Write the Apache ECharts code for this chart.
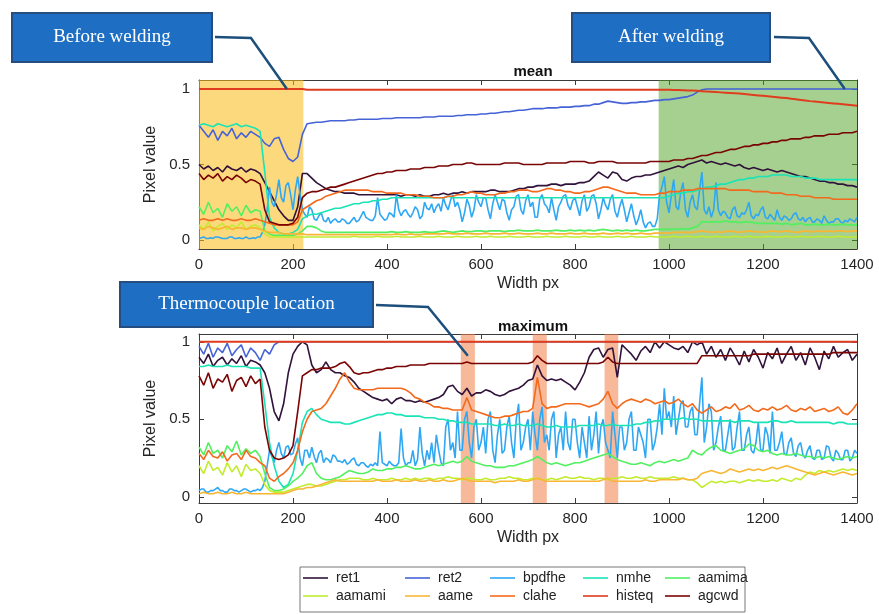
<!DOCTYPE html>
<html>
<head>
<meta charset="utf-8">
<script src="https://cdn.jsdelivr.net/npm/echarts@6.0.0/dist/echarts.min.js"></script>
<style>html,body{margin:0;padding:0;background:#fff}#c{width:879px;height:614px}</style>
</head>
<body>
<div id="c"></div>
<script>
// ---------------- data ----------------
const seriesNames = ['ret1','ret2','bpdfhe','nmhe','aamima','aamami','aame','clahe','histeq','agcwd'];
const yTickValues = [0,0.5,1];
// sampling grids: Width px every 10 px (and every 5 px for the noisiest curves)
const widthPx = Array.from({length:141},(_,i)=>i*10);
const widthFine = Array.from({length:281},(_,i)=>i*5);

const beforeRange = [0,222];
const afterRange = [978,1400];
const thermoRanges = [[557,587],[710,740],[863,892]];

// ---- mean ----
const mRet1 = [
.5,.47,.49,.46,.48,.45,.49,.47,.46,.48,
.45,.47,.46,.44,.38,.32,.26,.2,.16,.13,
.13,.22,.44,.44,.41,.38,.36,.34,.33,.32,
.32,.31,.31,.31,.3,.3,.3,.3,.3,.3,
.3,.3,.3,.29,.3,.3,.29,.3,.29,.29,
.3,.3,.31,.3,.31,.31,.32,.31,.32,.32,
.32,.32,.33,.33,.32,.32,.32,.33,.34,.34,
.35,.35,.36,.36,.36,.37,.37,.36,.37,.37,
.37,.38,.38,.39,.42,.45,.43,.41,.45,.44,
.4,.39,.41,.42,.42,.43,.43,.44,.45,.46,
.47,.48,.49,.48,.5,.51,.52,.53,.51,.52,
.51,.5,.51,.5,.49,.5,.48,.47,.48,.47,
.46,.47,.46,.45,.46,.45,.44,.43,.42,.42,
.41,.4,.39,.39,.38,.38,.37,.37,.36,.36,
.35];
const mRet2 = [
.76,.72,.68,.73,.66,.72,.69,.74,.67,.71,
.68,.72,.7,.68,.64,.62,.67,.68,.6,.54,
.52,.55,.7,.77,.775,.78,.78,.785,.79,.79,
.79,.79,.795,.795,.8,.8,.8,.8,.8,.805,
.805,.805,.81,.81,.81,.81,.81,.81,.815,.815,
.815,.82,.82,.82,.82,.825,.825,.83,.83,.83,
.835,.835,.84,.84,.845,.85,.85,.855,.86,.86,
.865,.87,.87,.87,.875,.875,.875,.88,.88,.88,
.885,.885,.89,.89,.9,.9,.91,.92,.915,.91,
.905,.905,.91,.91,.915,.915,.92,.925,.925,.93,
.93,.935,.94,.945,.95,.96,.98,.995,1,1,
1,1,1,1,1,1,1,1,1,1,
1,1,1,1,1,1,1,1,1,1,
1,1,1,1,1,1,1,1,1,1,
1];
const mBpdfhe = [
.01,.015,.02,.01,.01,.015,.01,.02,.02,.015,.01,.01,.01,.02,.02,.01,.01,.015,.01,.01,
.02,.01,.01,.015,.01,.02,.02,.05,.1,.2,.35,.25,.22,.3,.4,.28,.25,.36,.38,.3,
.2,.33,.42,.3,.2,.17,.15,.22,.2,.14,.13,.16,.18,.13,.12,.15,.11,.13,.14,.12,
.12,.14,.13,.11,.11,.13,.15,.12,.13,.16,.19,.15,.14,.13,.13,.16,.28,.17,.15,.13,
.14,.18,.17,.15,.3,.2,.16,.19,.2,.17,.15,.18,.22,.2,.14,.16,.25,.21,.2,.24,
.18,.22,.24,.19,.28,.23,.2,.26,.3,.22,.25,.2,.12,.18,.27,.23,.15,.2,.3,.25,
.22,.28,.28,.2,.14,.24,.3,.25,.2,.27,.26,.18,.13,.2,.22,.29,.3,.2,.17,.26,
.3,.22,.25,.15,.15,.27,.3,.24,.22,.18,.28,.2,.13,.22,.25,.29,.3,.23,.2,.26,
.28,.22,.16,.26,.3,.19,.22,.29,.3,.24,.14,.2,.28,.23,.2,.27,.3,.19,.15,.22,
.27,.2,.12,.18,.24,.16,.1,.14,.2,.12,.08,.11,.12,.09,.09,.14,.3,.35,.42,.25,
.18,.3,.4,.22,.2,.32,.38,.2,.15,.25,.3,.22,.2,.33,.45,.2,.17,.22,.15,.2,
.38,.2,.16,.19,.18,.15,.14,.2,.22,.16,.15,.18,.17,.2,.25,.16,.14,.17,.16,.2,
.22,.15,.14,.17,.15,.13,.2,.15,.13,.16,.15,.13,.14,.17,.18,.14,.13,.15,.12,.14,
.15,.12,.12,.14,.13,.11,.16,.13,.11,.12,.12,.14,.14,.12,.11,.13,.12,.14,.13,.12,
.15];
const mNmhe = [
.76,.77,.76,.75,.77,.76,.75,.76,.77,.75,
.76,.75,.74,.72,.45,.15,.08,.05,.04,.04,
.05,.07,.14,.16,.17,.17,.18,.19,.2,.21,
.21,.22,.23,.24,.24,.25,.25,.26,.26,.27,
.27,.28,.28,.28,.28,.28,.28,.28,.28,.28,
.28,.28,.28,.29,.28,.28,.28,.28,.28,.28,
.28,.28,.28,.28,.28,.28,.28,.28,.28,.28,
.28,.28,.28,.28,.28,.28,.28,.28,.28,.28,
.28,.28,.28,.28,.28,.28,.28,.28,.28,.28,
.28,.28,.28,.28,.28,.28,.28,.28,.28,.28,
.29,.3,.31,.31,.32,.32,.33,.34,.35,.35,
.36,.37,.37,.38,.39,.4,.4,.41,.41,.42,
.42,.42,.43,.43,.43,.43,.42,.42,.42,.41,
.41,.41,.4,.4,.4,.4,.4,.4,.4,.4,
.4];
const mAamima = [
.22,.17,.25,.18,.21,.15,.24,.19,.22,.16,
.23,.18,.2,.19,.06,.04,.03,.03,.03,.03,
.03,.04,.06,.09,.09,.08,.06,.05,.05,.05,
.05,.05,.05,.05,.05,.05,.05,.05,.05,.05,
.05,.055,.05,.05,.055,.05,.05,.05,.055,.05,
.05,.055,.06,.055,.05,.055,.06,.055,.055,.06,
.06,.055,.06,.06,.06,.055,.06,.06,.065,.06,
.06,.06,.065,.06,.06,.06,.065,.06,.06,.065,
.06,.065,.06,.065,.06,.065,.07,.065,.06,.065,
.06,.065,.06,.065,.06,.06,.065,.07,.07,.07,
.07,.07,.07,.075,.07,.08,.09,.12,.12,.12,
.12,.12,.125,.12,.12,.115,.12,.12,.115,.11,
.11,.11,.11,.11,.105,.11,.1,.105,.11,.1,
.1,.105,.1,.1,.105,.1,.1,.105,.1,.1,
.1];
const mAamami = [
.1,.07,.12,.06,.09,.11,.07,.1,.08,.12,
.07,.09,.1,.08,.04,.02,.02,.02,.02,.02,
.02,.02,.02,.02,.02,.02,.02,.02,.02,.02,
.02,.02,.02,.025,.02,.02,.02,.02,.025,.02,
.02,.02,.025,.02,.02,.02,.02,.025,.02,.02,
.02,.025,.02,.02,.02,.025,.02,.02,.02,.025,
.02,.02,.025,.02,.02,.02,.025,.02,.02,.02,
.025,.02,.02,.02,.025,.02,.02,.02,.025,.02,
.02,.02,.025,.02,.02,.025,.02,.02,.02,.025,
.02,.02,.025,.02,.02,.02,.025,.02,.02,.02,
.02,.025,.02,.02,.025,.02,.02,.025,.02,.02,
.025,.02,.02,.02,.025,.02,.02,.025,.02,.02,
.02,.025,.02,.02,.02,.025,.02,.02,.025,.02,
.02,.02,.025,.02,.02,.02,.025,.02,.02,.02,
.02];
const mAame = [
.08,.07,.09,.08,.07,.08,.09,.07,.08,.08,
.07,.08,.08,.07,.06,.05,.05,.05,.04,.04,
.04,.04,.04,.035,.035,.035,.035,.035,.035,.035,
.035,.035,.035,.035,.035,.035,.035,.035,.035,.035,
.035,.035,.04,.035,.035,.04,.035,.035,.04,.04,
.04,.04,.04,.045,.04,.04,.04,.045,.04,.04,
.04,.045,.04,.04,.04,.045,.04,.04,.045,.04,
.04,.04,.045,.04,.04,.045,.04,.04,.04,.045,
.04,.04,.045,.04,.04,.04,.045,.04,.04,.045,
.04,.045,.04,.04,.045,.04,.04,.045,.045,.045,
.045,.05,.05,.05,.05,.05,.055,.06,.055,.05,
.055,.05,.055,.06,.055,.05,.055,.06,.055,.055,
.05,.055,.06,.055,.055,.06,.055,.05,.055,.06,
.055,.055,.06,.055,.06,.055,.06,.06,.055,.06,
.06];
const mClahe = [
.13,.14,.13,.13,.14,.13,.14,.13,.13,.14,
.13,.13,.14,.13,.12,.11,.1,.1,.1,.1,
.1,.12,.2,.22,.24,.26,.27,.29,.3,.31,
.32,.33,.33,.33,.33,.33,.33,.32,.32,.32,
.31,.31,.31,.31,.3,.3,.3,.29,.29,.29,
.28,.28,.28,.29,.29,.3,.3,.31,.32,.31,
.31,.3,.3,.3,.31,.31,.32,.32,.33,.33,
.33,.32,.32,.33,.34,.34,.33,.33,.32,.32,
.31,.31,.32,.32,.33,.34,.35,.35,.34,.33,
.32,.31,.31,.31,.3,.3,.3,.3,.31,.31,
.32,.32,.32,.33,.33,.33,.34,.34,.34,.34,
.34,.34,.34,.33,.33,.33,.33,.33,.32,.32,
.32,.32,.31,.31,.31,.3,.3,.3,.29,.29,
.29,.28,.28,.28,.28,.27,.27,.27,.27,.27,
.27];
const mHisteq = [
1,1,1,1,1,1,1,1,1,1,
1,1,1,1,1,1,1,1,1,1,
1,1,1,.995,.995,.995,.995,.995,.995,.995,
.995,.995,.995,.995,.995,.995,.995,.995,.995,.995,
.995,.995,.995,.995,.995,.995,.995,.995,.995,.995,
.995,.995,.995,.995,.995,.995,.995,.995,.995,.995,
.995,.995,.995,.995,.995,.995,.995,.995,.995,.995,
.995,.995,.995,.995,.995,.995,.995,.995,.995,.995,
.995,.995,.995,.995,.995,.995,.995,.995,.995,.995,
.995,.995,.995,.995,.995,.995,.995,.995,.995,.995,
.995,.994,.993,.992,.991,.99,.988,.986,.984,.982,
.98,.978,.976,.974,.972,.97,.967,.964,.961,.958,
.955,.952,.949,.946,.943,.94,.936,.932,.928,.924,
.92,.917,.914,.911,.908,.905,.902,.899,.896,.893,
.89];
const mAgcwd = [
.44,.4,.43,.41,.44,.39,.42,.4,.43,.41,
.38,.4,.39,.37,.2,.12,.11,.1,.1,.1,
.11,.15,.28,.31,.32,.32,.33,.34,.35,.35,
.36,.37,.38,.39,.4,.41,.42,.43,.44,.44,
.45,.45,.46,.46,.46,.47,.47,.47,.48,.48,
.48,.49,.49,.49,.5,.5,.5,.51,.51,.5,
.5,.5,.5,.5,.5,.51,.51,.51,.51,.5,
.5,.5,.5,.5,.51,.51,.51,.51,.51,.52,
.52,.52,.52,.51,.51,.52,.52,.52,.52,.51,
.51,.51,.51,.51,.51,.51,.52,.52,.52,.52,
.52,.53,.53,.53,.54,.54,.55,.56,.56,.57,
.58,.58,.59,.6,.6,.61,.62,.62,.63,.63,
.64,.64,.65,.65,.66,.66,.67,.67,.67,.68,
.68,.69,.69,.69,.7,.7,.7,.71,.71,.71,
.72];

// ---- maximum ----
const xRet1 = [
.9,.86,.92,.84,.88,.9,.85,.89,.86,.91,
.84,.88,.87,.85,.8,.7,.55,.49,.6,.8,
.92,.97,1,.98,.85,.8,.82,.87,.82,.8,
.8,.78,.77,.74,.7,.68,.66,.64,.63,.62,
.63,.6,.63,.64,.62,.62,.61,.62,.61,.62,
.63,.64,.66,.71,.72,.68,.66,.7,.65,.67,
.67,.69,.68,.66,.65,.66,.68,.69,.7,.72,
.75,.76,.85,.78,.75,.76,.75,.76,.74,.72,
.69,.74,.8,.9,.95,.96,.9,.95,.96,.77,
.98,.95,.92,.88,.94,.97,.93,1,.96,1,
.98,.96,.95,.97,.93,1,.98,1,.92,.97,
.9,.95,.88,.96,.91,.85,.94,.87,.95,.9,
.83,.93,.89,.96,.86,.92,.97,.88,.93,.85,
.96,.9,.82,.94,.89,.97,.9,.93,.95,.88,
.92];
const xRet2 = [
.97,.92,.99,.9,.96,.93,.99,.91,.95,.98,
.9,.96,.93,.88,.95,.92,.98,1,1,1,
1,1,1,1,1,1,1,1,1,1,
1,1,1,1,1,1,1,1,1,1,
1,1,1,1,1,1,1,1,1,1,
1,1,1,1,1,1,1,1,1,1,
1,1,1,1,1,1,1,1,1,1,
1,1,1,1,1,1,1,1,1,1,
1,1,1,1,1,1,1,1,1,1,
1,1,1,1,1,1,1,1,1,1,
1,1,1,1,1,1,1,1,1,1,
1,1,1,1,1,1,1,1,1,1,
1,1,1,1,1,1,1,1,1,1,
1,1,1,1,1,1,1,1,1,1,
1];
const xBpdfhe = [
.04,.05,.05,.03,.03,.04,.04,.05,.06,.04,.04,.03,.03,.05,.05,.04,.04,.03,.04,.05,
.05,.04,.03,.04,.04,.05,.04,.06,.1,.2,.3,.26,.22,.3,.35,.28,.25,.32,.33,.27,
.28,.34,.38,.25,.2,.3,.3,.25,.32,.26,.22,.28,.3,.22,.25,.24,.22,.27,.26,.23,
.23,.22,.24,.21,.22,.24,.25,.21,.2,.22,.22,.2,.19,.21,.2,.22,.2,.42,.22,.21,
.2,.23,.21,.2,.2,.22,.44,.25,.2,.22,.22,.3,.2,.24,.45,.28,.2,.3,.24,.35,
.22,.4,.3,.22,.2,.45,.5,.3,.35,.25,.55,.3,.3,.5,.55,.35,.25,.45,.5,.3,
.35,.45,.28,.5,.55,.3,.22,.4,.5,.28,.3,.45,.52,.35,.25,.5,.6,.3,.35,.45,
.5,.3,.55,.4,.3,.5,.58,.35,.4,.3,.5,.55,.25,.4,.45,.3,.55,.35,.3,.5,
.5,.35,.25,.45,.35,.25,.52,.3,.4,.55,.28,.45,.5,.35,.3,.25,.55,.4,.25,.45,
.45,.3,.35,.5,.55,.3,.3,.45,.4,.35,.25,.5,.5,.3,.35,.45,.6,.4,.7,.5,
.55,.45,.65,.4,.5,.6,.62,.45,.45,.55,.58,.4,.4,.6,.77,.35,.45,.6,.55,.3,
.35,.45,.52,.3,.3,.4,.5,.3,.32,.45,.55,.3,.3,.4,.45,.3,.28,.35,.48,.3,
.3,.45,.4,.28,.55,.3,.3,.35,.42,.28,.27,.35,.38,.28,.26,.33,.35,.27,.25,.3,
.33,.25,.24,.3,.3,.24,.25,.33,.32,.25,.23,.3,.28,.24,.24,.3,.3,.23,.25,.3,
.28];
const xNmhe = [
.84,.84,.85,.84,.84,.84,.85,.84,.84,.84,
.84,.83,.83,.83,.6,.35,.2,.1,.06,.08,
.15,.3,.48,.55,.57,.53,.5,.49,.48,.48,
.48,.47,.47,.48,.49,.5,.51,.52,.53,.53,
.54,.54,.53,.53,.52,.52,.52,.52,.51,.51,
.51,.5,.5,.49,.49,.48,.48,.48,.47,.47,
.47,.47,.47,.46,.46,.47,.46,.46,.47,.46,
.46,.46,.47,.46,.45,.45,.46,.45,.45,.45,
.45,.46,.46,.46,.46,.47,.46,.46,.47,.46,
.46,.46,.46,.47,.47,.48,.48,.49,.49,.5,
.5,.5,.5,.51,.5,.5,.5,.49,.49,.49,
.49,.49,.49,.49,.48,.49,.49,.49,.48,.48,
.48,.48,.49,.49,.48,.48,.49,.48,.48,.48,
.48,.48,.48,.48,.48,.47,.48,.48,.47,.47,
.47];
const xAamima = [
.32,.27,.35,.28,.3,.25,.33,.29,.36,.27,
.31,.28,.3,.26,.15,.06,.04,.04,.05,.07,
.1,.12,.15,.2,.22,.15,.12,.11,.11,.12,
.13,.15,.17,.16,.15,.15,.16,.18,.17,.17,
.18,.18,.19,.19,.2,.19,.18,.18,.19,.2,
.21,.2,.21,.22,.23,.22,.23,.26,.23,.22,
.21,.2,.2,.19,.19,.19,.2,.2,.21,.22,
.23,.24,.26,.24,.22,.21,.22,.21,.2,.21,
.22,.22,.23,.24,.25,.26,.27,.28,.26,.24,
.23,.22,.21,.21,.22,.21,.2,.22,.23,.22,
.23,.24,.23,.24,.25,.3,.28,.27,.3,.32,
.33,.3,.29,.28,.29,.3,.31,.34,.33,.3,
.29,.3,.28,.27,.28,.27,.27,.28,.27,.26,
.26,.25,.26,.25,.26,.25,.24,.25,.26,.25,
.26];
const xAamami = [
.2,.15,.23,.17,.19,.14,.22,.16,.2,.13,
.21,.17,.18,.15,.08,.04,.03,.03,.03,.04,
.05,.06,.07,.08,.08,.07,.07,.08,.09,.1,
.11,.11,.12,.12,.12,.11,.11,.12,.11,.11,
.11,.12,.11,.11,.12,.11,.12,.11,.12,.12,
.11,.12,.12,.13,.12,.12,.11,.12,.12,.11,
.11,.12,.11,.11,.12,.12,.13,.12,.12,.11,
.11,.12,.12,.11,.11,.12,.11,.12,.13,.12,
.12,.13,.12,.12,.11,.12,.12,.11,.12,.12,
.13,.12,.12,.13,.12,.12,.13,.12,.12,.12,
.12,.13,.12,.12,.11,.11,.09,.06,.08,.1,
.09,.1,.09,.1,.1,.09,.1,.11,.1,.11,
.1,.1,.11,.1,.12,.11,.1,.12,.11,.14,
.16,.15,.17,.16,.17,.16,.17,.18,.17,.18,
.17];
const xAame = [
.02,.03,.02,.02,.03,.02,.02,.03,.02,.02,
.03,.02,.02,.02,.02,.02,.02,.02,.02,.03,
.04,.05,.05,.06,.06,.07,.08,.09,.1,.11,
.1,.1,.1,.1,.1,.1,.1,.1,.11,.1,
.1,.1,.11,.1,.1,.1,.11,.1,.1,.11,
.1,.1,.11,.1,.1,.11,.12,.11,.1,.1,
.1,.1,.1,.09,.1,.1,.1,.1,.11,.1,
.1,.11,.12,.11,.1,.1,.1,.1,.1,.1,
.1,.1,.1,.1,.1,.1,.11,.12,.1,.1,
.1,.1,.1,.1,.1,.11,.1,.1,.11,.11,
.11,.11,.11,.12,.11,.11,.12,.15,.16,.17,
.16,.15,.16,.18,.17,.16,.17,.18,.17,.18,
.17,.18,.19,.18,.19,.2,.19,.18,.17,.16,
.15,.14,.15,.16,.15,.14,.15,.16,.15,.14,
.15];
const xClahe = [
.28,.24,.3,.26,.25,.29,.23,.27,.28,.24,
.3,.26,.25,.22,.2,.12,.1,.13,.15,.18,
.22,.3,.42,.5,.55,.56,.57,.6,.65,.7,
.76,.8,.74,.7,.69,.69,.69,.69,.7,.7,
.7,.7,.7,.7,.69,.67,.64,.63,.61,.6,
.58,.58,.57,.57,.56,.56,.56,.64,.56,.55,
.54,.53,.52,.51,.51,.52,.52,.53,.54,.55,
.55,.57,.77,.6,.57,.58,.58,.59,.6,.6,
.6,.6,.59,.58,.59,.6,.63,.68,.6,.57,
.6,.62,.63,.62,.61,.63,.62,.6,.61,.62,
.6,.61,.63,.6,.58,.6,.56,.54,.56,.58,
.55,.56,.58,.57,.6,.56,.57,.59,.56,.55,
.57,.56,.58,.56,.57,.59,.56,.55,.57,.56,
.58,.55,.56,.57,.55,.56,.58,.54,.53,.56,
.6];
const xHisteq = [
1,1,1,1,1,1,1,1,1,1,
1,1,1,1,1,1,1,1,1,1,
1,1,1,1,1,1,1,1,1,1,
1,1,1,1,1,1,1,1,1,1,
1,1,1,1,1,1,1,1,1,1,
1,1,1,1,1,1,1,1,1,1,
1,1,1,1,1,1,1,1,1,1,
1,1,1,1,1,1,1,1,1,1,
1,1,1,1,1,1,1,1,1,1,
1,1,1,1,1,1,1,1,1,1,
1,1,1,1,1,1,1,1,1,1,
1,1,1,1,1,1,1,1,1,1,
1,1,1,1,1,1,1,1,1,1,
1,1,1,1,1,1,1,1,1,1,
1];
const xAgcwd = [
.78,.72,.8,.7,.76,.74,.79,.68,.75,.77,
.71,.78,.73,.76,.45,.3,.25,.24,.25,.27,
.33,.55,.78,.8,.82,.82,.83,.83,.83,.84,
.86,.87,.84,.8,.79,.8,.8,.81,.82,.82,
.83,.83,.84,.84,.84,.85,.85,.85,.85,.86,
.86,.86,.86,.86,.86,.86,.86,.87,.86,.86,
.86,.86,.86,.86,.86,.86,.86,.86,.86,.86,
.86,.87,.91,.88,.86,.86,.86,.86,.86,.86,
.86,.86,.86,.86,.86,.86,.87,.9,.87,.86,
.86,.86,.86,.86,.86,.86,.86,.86,.86,.86,
.86,.86,.86,.86,.86,.86,.86,.91,.91,.91,
.91,.91,.91,.91,.91,.91,.91,.91,.92,.92,
.92,.92,.92,.92,.92,.92,.92,.92,.92,.92,
.92,.92,.92,.92,.92,.93,.93,.93,.93,.93,
.93];

const meanValues = [mRet1,mRet2,mBpdfhe,mNmhe,mAamima,mAamami,mAame,mClahe,mHisteq,mAgcwd];
const maxValues  = [xRet1,xRet2,xBpdfhe,xNmhe,xAamima,xAamami,xAame,xClahe,xHisteq,xAgcwd];

// annotation anchors (data units)
const beforeAnchor = [187, 1.0];
const afterAnchor = [1374, 1.0];
const thermoAnchor = [572, 0.91];

// ---------------- style ----------------
const colors = ['#30123b','#4662d7','#2fa8f4','#1ae4b6','#52f061','#c2ec2e','#f8b634','#f36a1c','#e03c1e','#7a0403'];
const axisColor = '#3a3a3a';
const textColor = '#262626';
const font = 'Liberation Sans, Arial, Helvetica, sans-serif';

function xAx(gi, pos, labels) {
  return {
    type: 'value', gridIndex: gi, position: pos, min: 0, max: 1400, interval: 200,
    axisLine: {show: true, onZero: false, lineStyle: {color: axisColor, width: 1}},
    axisTick: {show: true, inside: true, length: 5, lineStyle: {color: axisColor}},
    axisLabel: {show: labels, color: textColor, fontSize: 15, fontFamily: font, margin: 8,
                formatter: v => String(v)},
    splitLine: {show: false},
    name: labels ? 'Width px' : '', nameLocation: 'middle', nameGap: 27,
    nameTextStyle: {fontSize: 16, color: textColor, fontFamily: font}
  };
}
function yAx(gi, pos, labels, mn, mx) {
  return {
    type: 'value', gridIndex: gi, position: pos, min: mn, max: mx,
    axisLine: {show: true, onZero: false, lineStyle: {color: axisColor, width: 1}},
    axisTick: {show: true, inside: true, length: 5, customValues: yTickValues, lineStyle: {color: axisColor}},
    axisLabel: {show: labels, customValues: yTickValues, color: textColor, fontSize: 15, fontFamily: font, margin: 9,
                formatter: v => String(v)},
    splitLine: {show: false},
    name: labels ? 'Pixel value' : '', nameLocation: 'middle', nameGap: 27, nameRotate: 90,
    nameTextStyle: {fontSize: 16, color: textColor, fontFamily: font}
  };
}

const series = [];
function addSet(values, xi) {
  values.forEach((vals, k) => {
    const grid = vals.length === widthFine.length ? widthFine : widthPx;
    const isHisteq = seriesNames[k] === 'histeq';
    series.push({
      name: seriesNames[k], type: 'line', xAxisIndex: xi, yAxisIndex: xi,
      data: vals.map((v, i) => [grid[i], v]),
      showSymbol: false, symbol: 'none', silent: true, z: isHisteq ? 3 : 2,
      lineStyle: {color: colors[k], width: isHisteq ? 2 : 1.6},
      itemStyle: {color: colors[k]},
      emphasis: {disabled: true}
    });
  });
}
addSet(meanValues, 0);
addSet(maxValues, 2);

// translucent overlays drawn above the lines
series.push({
  type: 'line', xAxisIndex: 0, yAxisIndex: 0, data: [], z: 5, silent: true,
  markArea: {silent: true, data: [
    [{xAxis: beforeRange[0], itemStyle: {color: 'rgba(252,188,24,0.56)'}}, {xAxis: beforeRange[1]}],
    [{xAxis: afterRange[0], itemStyle: {color: 'rgba(78,162,32,0.5)'}}, {xAxis: afterRange[1]}]
  ]}
});
series.push({
  type: 'line', xAxisIndex: 2, yAxisIndex: 2, data: [], z: 5, silent: true,
  markArea: {silent: true, itemStyle: {color: 'rgba(240,128,70,0.55)'},
    data: thermoRanges.map(r => [{xAxis: r[0]}, {xAxis: r[1]}])}
});

// legends: 2 rows x 5 columns
const legCols = [303, 405, 490, 583, 665];
const legRows = [571, 589];
const legends = seriesNames.map((n, k) => ({
  data: [n], left: legCols[k % 5], top: legRows[Math.floor(k / 5)], padding: 0,
  icon: 'rect', itemWidth: 25, itemHeight: 1.6, itemGap: 0, selectedMode: false,
  textStyle: {fontSize: 14, color: '#222', fontFamily: font, padding: [0, 0, 0, 3]}
}));

const chart = echarts.init(document.getElementById('c'), null, {renderer: 'canvas'});
chart.setOption({
  animation: false,
  color: colors,
  title: [
    {text: 'mean', left: 528, top: 59, textAlign: 'center',
     textStyle: {fontSize: 15, fontWeight: 'bold', color: '#111', fontFamily: font}},
    {text: 'maximum', left: 528, top: 314, textAlign: 'center',
     textStyle: {fontSize: 15, fontWeight: 'bold', color: '#111', fontFamily: font}}
  ],
  grid: [
    {left: 199, top: 80, width: 658, height: 169},
    {left: 199, top: 334, width: 658, height: 169}
  ],
  xAxis: [xAx(0, 'bottom', true), xAx(0, 'top', false), xAx(1, 'bottom', true), xAx(1, 'top', false)],
  yAxis: [yAx(0, 'left', true, -0.06, 1.06), yAx(0, 'right', false, -0.06, 1.06),
          yAx(1, 'left', true, -0.04, 1.05), yAx(1, 'right', false, -0.04, 1.05)],
  legend: legends,
  series: series
});

// annotations
const pB = chart.convertToPixel({gridIndex: 0}, beforeAnchor);
const pA = chart.convertToPixel({gridIndex: 0}, afterAnchor);
const pT = chart.convertToPixel({gridIndex: 1}, thermoAnchor);
const boxFill = '#1e6fc3', boxStroke = '#254d80', calloutColor = '#1d4f7c';
function box(x, y, w, h, label) {
  return [
    {type: 'rect', z: 100, shape: {x: x, y: y, width: w, height: h},
     style: {fill: boxFill, stroke: boxStroke, lineWidth: 2}},
    {type: 'text', z: 101, x: x + w / 2, y: y + h / 2,
     style: {text: label, fill: '#fff', font: '19px "Liberation Serif", "Times New Roman", serif',
             textAlign: 'center', textVerticalAlign: 'middle', align: 'center', verticalAlign: 'middle'}}
  ];
}
function callout(pts) {
  return {type: 'polyline', z: 100, shape: {points: pts},
          style: {stroke: calloutColor, lineWidth: 2.5, fill: null}};
}
chart.setOption({
  graphic: [
    {type: 'rect', z: 0, shape: {x: 300, y: 567, width: 445, height: 45},
     style: {fill: '#fff', stroke: '#777', lineWidth: 1}},
    ...box(12, 13, 200, 49, 'Before welding'),
    ...box(572, 13, 198, 49, 'After welding'),
    ...box(120, 282, 253, 45, 'Thermocouple location'),
    callout([[215, 37], [251, 38], pB]),
    callout([[774, 37], [809, 38], pA]),
    callout([[376, 305], [428, 307], pT])
  ]
});
</script>
</body>
</html>
